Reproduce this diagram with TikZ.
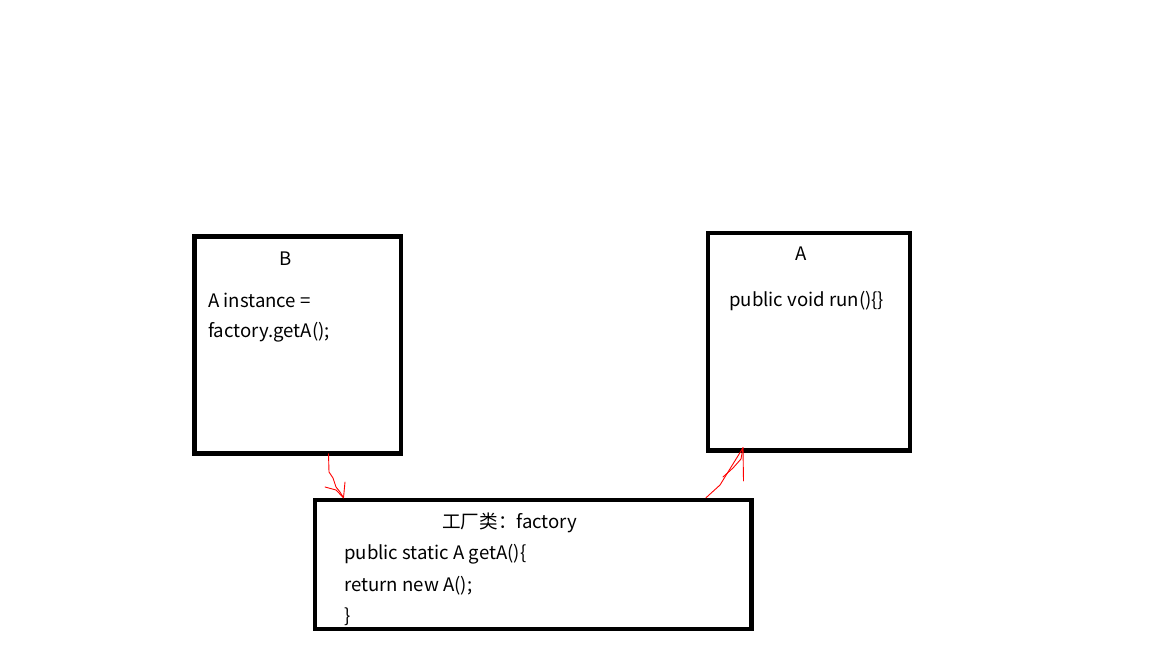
\documentclass[tikz,border=0pt]{standalone}
\usepackage{fontspec}
\setmainfont{Noto Sans CJK SC}
\begin{document}
\begin{tikzpicture}[x=1pt,y=-1pt,
  box/.style={draw=black,line width=4.5pt,fill=white,inner sep=0pt},
  lbl/.style={inner sep=0pt,font=\fontsize{18.6}{22}\selectfont,text=black},
  hand/.style={draw=red,line width=0.9pt,line join=round,line cap=round}]
\useasboundingbox[fill=white] (0,0) rectangle (1152,648);
\node[box,minimum width=206.5pt,minimum height=217pt] (B) at (297.75,345) {};
\node[box,minimum width=202pt,minimum height=217.5pt] (A) at (809,341.75) {};
\node[box,minimum width=436.5pt,minimum height=129pt] (F) at (533.25,564.5) {};
\node[lbl] (Bt) at (286,259) {B};
\node[lbl,anchor=west] (B1) at (208,300) {A instance =};
\node[lbl,anchor=west] (B2) at (208,332) {factory.getA();};
\node[lbl] (At) at (801,254) {A};
\node[lbl,anchor=west] (A1) at (729,301) {public void run()\{\}};
\node[lbl,anchor=west] (Ft) at (442,523) {工厂类：factory};
\node[lbl,anchor=west] (F1) at (344,554) {public static A getA()\{};
\node[lbl,anchor=west] (F2) at (344,586) {return new A();};
\node[lbl,anchor=west] (F3) at (344,617) {\}};
% hand-drawn arrow B -> factory
\coordinate (s1) at (B.south -| 328.5,0);
\coordinate (e1) at (F.north -| 343.5,0);
\draw[hand] ([yshift=2pt]s1) -- (329,472) -- (333,478) -- (336,487) -- (340,492) -- (e1);
\draw[hand] (325,487) -- (336,490) -- (e1);
\draw[hand] (345,482) -- (e1);
% hand-drawn arrow factory -> A
\coordinate (s2) at (F.north -| 706,0);
\coordinate (e2) at (A.south -| 743,0);
\draw[hand] (s2) -- (720,485) -- ([yshift=5pt]e2);
\draw[hand] (723,477) -- (733,468) -- (741,459) -- ([yshift=5pt]e2);
\draw[hand] ([yshift=5pt]e2) -- (743.5,481);
\end{tikzpicture}
\end{document}
